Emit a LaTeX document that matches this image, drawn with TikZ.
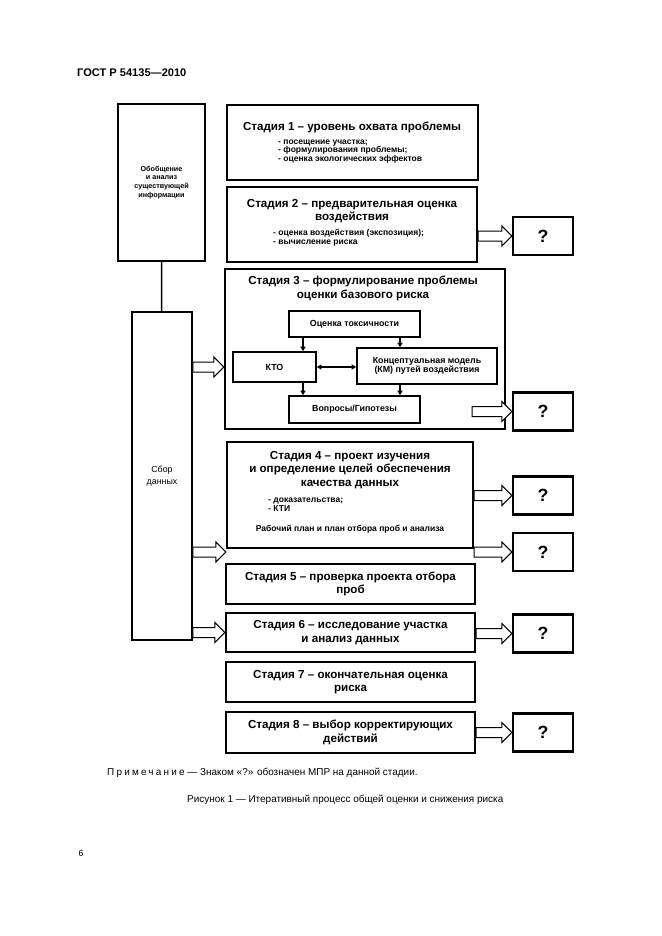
\documentclass[tikz,border=0pt]{standalone}
\usepackage{fontspec}
\setmainfont{Liberation Sans}
\usetikzlibrary{arrows.meta,calc}
\newcommand\pxu{0.03177cm}
\newcommand\fatarrow[2]{\draw[fat] let \p1=(#1), \p2=(#2) in
  (\x1,\y1+5*\pxu) -- (\x2-10*\pxu,\y1+5*\pxu) -- (\x2-10*\pxu,\y1+10*\pxu) -- (\x2,\y1)
  -- (\x2-10*\pxu,\y1-10*\pxu) -- (\x2-10*\pxu,\y1-5*\pxu) -- (\x1,\y1-5*\pxu) -- cycle;}
\tikzset{
  bx/.style 2 args={draw,line width=2.1pt,minimum width=#1*\pxu,minimum height=#2*\pxu,inner sep=0pt,align=center},
  ttl/.style={font=\fontsize{10.5}{12}\selectfont\bfseries,align=center,inner sep=0pt},
  sml/.style={font=\fontsize{7.7}{7.8}\selectfont\bfseries,align=left,inner sep=0pt},
  inr/.style={line width=1.5pt,font=\fontsize{8}{8.6}\selectfont\bfseries},
  qbox/.style={bx={60}{38},font=\fontsize{16}{16}\selectfont\bfseries},
  fat/.style={draw,fill=white,line width=0.9pt,line join=miter},
  link/.style={line width=1.6pt,-{Triangle[length=4pt,width=4.5pt]}},
  plain/.style={anchor=west,inner sep=0pt,font=\fontsize{9}{11}\selectfont}
}
\begin{document}
\begin{tikzpicture}[x=\pxu,y=-\pxu]
\useasboundingbox (0,0) rectangle (661,936);
\node[font=\fontsize{10}{12}\selectfont\bfseries,anchor=west,inner sep=0pt] (gost) at (77,73) {ГОСТ Р 54135—2010};

\node[bx={87}{157},font=\fontsize{6.5}{8}\selectfont\bfseries] (info) at (161.5,182.5) {Обобщение\\и анализ\\существующей\\информации};
\node[bx={60}{328},line width=1.6pt,font=\fontsize{8}{10.5}\selectfont] (sbor) at (162,476) {Сбор\\данных};
\draw[line width=1.4pt] (info) -- (sbor);

\node[bx={251}{75}] (st1) at (352.5,142.5) {};
\node[ttl] at (352,127) {Стадия 1 – уровень охвата проблемы};
\node[sml,anchor=north west] at (278,139.5) {- посещение участка;\\- формулирования проблемы;\\- оценка экологических эффектов};

\node[bx={250}{75}] (st2) at (352,224.5) {};
\node[ttl] at (352,211) {Стадия 2 – предварительная оценка\\воздействия};
\node[sml,anchor=north west] at (273,229) {- оценка воздействия (экспозиция);\\- вычисление риска};

\node[bx={280}{160}] (st3) at (365,349) {};
\node[ttl] at (363,288.5) {Стадия 3 – формулирование проблемы\\оценки базового риска};
\node[bx={131}{26},inr] (tox) at (354.5,324) {Оценка токсичности};
\node[bx={83}{30},inr] (kto) at (274.5,367) {КТО};
\node[bx={140}{36},inr] (km) at (427,366) {Концептуальная модель\\(КМ) путей воздействия};
\node[bx={131}{27},inr] (vopr) at (354.5,409.5) {Вопросы/Гипотезы};
\coordinate (c1) at (303,0);
\coordinate (c2) at (400,0);
\draw[link] (tox.south -| c1) -- (kto.north -| c1);
\draw[link] (tox.south -| c2) -- (km.north -| c2);
\draw[link] (kto.south -| c1) -- (vopr.north -| c1);
\draw[link] (km.south -| c2) -- (vopr.north -| c2);
\draw[link,{Triangle[length=4pt,width=4.5pt]}-{Triangle[length=4pt,width=4.5pt]}] (kto.east) -- (kto.east -| km.west);

\node[bx={246}{106}] (st4) at (350,495) {};
\node[ttl] at (350,470) {Стадия 4 – проект изучения\\и определение целей обеспечения\\качества данных};
\node[sml,anchor=north west] at (268,498) {- доказательства;\\- КТИ};
\node[sml] at (350,529) {Рабочий план и план отбора проб и анализа};

\node[bx={249}{40},ttl] (st5) at (350.5,584) {Стадия 5 – проверка проекта отбора\\проб};
\node[bx={249}{39},ttl] (st6) at (350.5,632.5) {Стадия 6 – исследование участка\\и анализ данных};
\node[bx={249}{40},ttl] (st7) at (350.5,682) {Стадия 7 – окончательная оценка\\риска};
\node[bx={249}{41},ttl] (st8) at (350.5,732.5) {Стадия 8 – выбор корректирующих\\действий};

\node[qbox] (q2) at (543,236) {?};
\node[qbox] (q3) at (543,411.5) {?};
\node[qbox] (q4a) at (543,495.5) {?};
\node[qbox] (q4b) at (543,552) {?};
\node[qbox] (q6) at (543,633.5) {?};
\node[qbox] (q8) at (543,732.5) {?};
\coordinate (a3) at (472,411.5);

\fatarrow{sbor.east |- kto.west}{st3.west |- kto.west}
\fatarrow{sbor.east |- q4b.west}{st4.west |- q4b.west}
\fatarrow{sbor.east |- st6.west}{st6.west}
\fatarrow{st2.east |- q2.west}{q2.west}
\fatarrow{a3}{q3.west}
\fatarrow{st4.east |- q4a.west}{q4a.west}
\fatarrow{st4.east |- q4b.west}{q4b.west}
\fatarrow{st6.east |- q6.west}{q6.west}
\fatarrow{st8.east |- q8.west}{q8.west}

\node[plain] (note) at (107,773) {{\addfontfeature{LetterSpace=22}Примечание} — Знаком «?» обозначен МПР на данной стадии.};
\node[plain] (cap) at (187,800) {Рисунок 1 — Итеративный процесс общей оценки и снижения риска};
\node[font=\fontsize{8}{10}\selectfont] (pg) at (81,853) {6};
\end{tikzpicture}
\end{document}
